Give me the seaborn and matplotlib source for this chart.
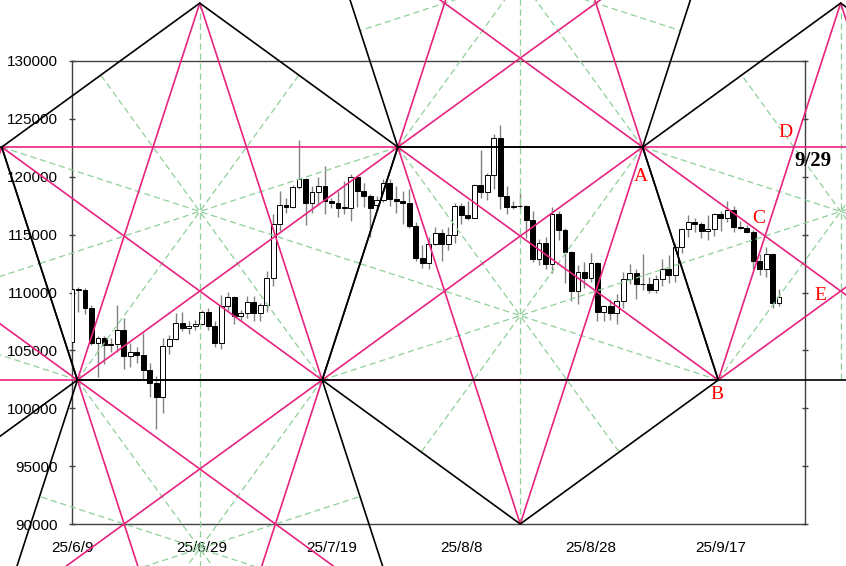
import matplotlib

matplotlib.use("Agg")
import matplotlib.dates as mdates
import matplotlib.pyplot as plt
import numpy as np
import pandas as pd
import seaborn as sns
from matplotlib.ticker import FuncFormatter, MultipleLocator

START = "2025-06-09"

# daily candles, 25/6/9 .. 25/9/26
opens = [105700, 110280, 110250, 108650, 105650, 106050, 105450, 105580, 106780, 104520,
         104900, 104600, 103300, 102150, 100950, 105350, 106000, 107350, 106900, 107100,
         107300, 108350, 107100, 105650, 108850, 109600, 108000, 108200, 109150, 108200,
         108900, 111250, 115950, 117550, 117400, 119100, 119800, 117750, 118700, 119200,
         117900, 117700, 117400, 117300, 120000, 118800, 118300, 117600, 117950, 119450,
         118100, 117900, 117750, 115750, 113000, 112550, 114200, 115100, 114150, 115000,
         117500, 116700, 116450, 119300, 118700, 120150, 123350, 118350, 117400, 117450,
         117500, 116250, 112900, 114250, 112450, 116800, 115400, 113500, 110100, 111750,
         111250, 112550, 108350, 108800, 108200, 109300, 111200, 111700, 110700, 110750,
         110200, 111150, 112050, 111500, 113950, 115500, 116100, 115950, 115300, 115450,
         116750, 116450, 117100, 115650, 115600, 115250, 112700, 112050, 113300, 109050]
highs = [110400, 110500, 110400, 108900, 106200, 106200, 106100, 108900, 107800, 105600,
         105300, 106500, 103900, 102800, 106100, 106300, 108200, 108300, 107500, 107600,
         108500, 108700, 107500, 109800, 110050, 109700, 108500, 109700, 109700, 109100,
         111900, 116800, 118800, 118200, 119300, 123200, 119900, 119200, 120000, 120900,
         118200, 118800, 119600, 120200, 120100, 119500, 118500, 118300, 119800, 119800,
         119200, 118800, 118900, 116100, 114100, 114800, 115700, 115500, 115700, 117700,
         117700, 117900, 119350, 122300, 120300, 123700, 124450, 119200, 117900, 118600,
         117600, 117000, 114600, 114800, 117400, 117000, 115600, 113600, 112400, 112600,
         113450, 112600, 108950, 109400, 109900, 111800, 112500, 112000, 113300, 111300,
         111500, 112900, 113200, 114300, 115600, 116700, 116400, 116100, 116700, 116900,
         117000, 117900, 117500, 116200, 115800, 115400, 113300, 113900, 113400, 110300]
lows = [105300, 108300, 108100, 105500, 102700, 103800, 104900, 104900, 103400, 103600,
        103900, 102400, 101000, 98250, 99600, 104700, 105900, 106700, 106400, 106800,
        107200, 106800, 105300, 105100, 108400, 107300, 107500, 107800, 107500, 107500,
        108300, 110600, 115300, 116900, 117300, 118900, 115800, 116900, 117600, 116800,
        117300, 116500, 116800, 116200, 117400, 117400, 114800, 117200, 117800, 117500,
        116900, 115900, 115600, 112700, 112100, 112000, 114100, 112700, 113700, 114300,
        115900, 116300, 116400, 118200, 118000, 118900, 117200, 116800, 117200, 117200,
        114700, 112600, 112400, 112000, 111700, 114500, 110800, 109300, 109000, 110400,
        110900, 107500, 107500, 107600, 107300, 108700, 110700, 109400, 110200, 110000,
        110000, 110600, 110800, 110900, 113400, 114800, 115200, 114700, 114500, 114900,
        115300, 116100, 115200, 115500, 115100, 112000, 111500, 111300, 108700, 108800]
closes = [110280, 110250, 108650, 105650, 106050, 105450, 105580, 106780, 104520, 104900,
          104600, 103300, 102150, 100950, 105350, 106000, 107350, 106900, 107100, 107300,
          108350, 107100, 105650, 108850, 109600, 108000, 108200, 109150, 108200, 108900,
          111250, 115950, 117550, 117400, 119100, 119800, 117750, 118700, 119200, 117900,
          117700, 117300, 117300, 120000, 118800, 118300, 117300, 117950, 119450, 118100,
          117900, 117750, 115750, 113000, 112550, 114200, 115100, 114150, 115000, 117500,
          116700, 116450, 119300, 118700, 120150, 123350, 118350, 117400, 117450, 117500,
          116250, 112900, 114250, 112450, 116800, 115400, 113500, 110100, 111750, 111250,
          112550, 108350, 108800, 108200, 109300, 111200, 111700, 110700, 110750, 110200,
          111150, 112050, 111500, 113950, 115500, 116100, 115950, 115300, 115450, 116750,
          116450, 117100, 115650, 115600, 115250, 112700, 112050, 113300, 109050, 109650]

# regular pentagons drawn over the chart: centre (days after START, price), apex side
pent_days = [-29.7, 19.7, 69.1, 118.5, 19.7, 69.1]
pent_prices = [108000, 117000, 108000, 117000, 87876, 137124]
pent_apex = ["down", "up", "down", "up", "down", "up"]
PENT_R_DAYS = 32.1
PENT_R_PRICE = 18000

# lower horizontal drawn in black between the two pentagon corners
support_days = [38.6, 99.6]
support_prices = [102438, 102438]

tick_days = [0, 20, 40, 60, 80, 100]
y_ticks = [90000, 95000, 100000, 105000, 110000, 115000, 120000, 125000, 130000]

label_texts = ["A", "B", "C", "D", "E"]
label_days = [87.7, 99.5, 105.8, 110.0, 115.4]
label_prices = [120000, 101150, 116400, 123780, 109780]
date_note = "9/29"
note_day = 114.3
note_price = 121390

PINK = "#e8237f"
GREEN = "#8fcf9a"


def pentagon(cx, cy, apex):
    start = 90 if apex == "up" else 270
    ang = np.deg2rad(start + 72 * np.arange(5))
    return cx + PENT_R_DAYS * np.cos(ang), cy + PENT_R_PRICE * np.sin(ang)


def build_segments(base):
    rows = []
    seg = 0
    for cx, cy, apex in zip(pent_days, pent_prices, pent_apex):
        vx, vy = pentagon(cx, cy, apex)
        for i in range(5):
            pairs = {
                "side": ((vx[i], vy[i]), (vx[(i + 1) % 5], vy[(i + 1) % 5])),
                "diag": ((vx[i], vy[i]), (vx[(i + 2) % 5], vy[(i + 2) % 5])),
                "axis": (
                    (vx[i], vy[i]),
                    ((vx[(i + 2) % 5] + vx[(i + 3) % 5]) / 2, (vy[(i + 2) % 5] + vy[(i + 3) % 5]) / 2),
                ),
            }
            for kind, (p, q) in pairs.items():
                rows.append((kind, seg, base + p[0], p[1]))
                rows.append((kind, seg, base + q[0], q[1]))
                seg += 1
    rows.append(("side", seg, base + support_days[0], support_prices[0]))
    rows.append(("side", seg, base + support_days[1], support_prices[1]))
    return pd.DataFrame(rows, columns=["kind", "seg", "x", "y"])


def date_label(value, pos):
    d = mdates.num2date(value)
    return f"{d.year % 100}/{d.month}/{d.day}"


sns.set_theme(style="white")
plt.rcParams["font.family"] = ["Liberation Sans", "DejaVu Sans"]

fig = plt.figure(figsize=(8.46, 5.66), dpi=100)
ax = fig.add_axes([72 / 846, 1 - 524 / 566, (805 - 72) / 846, (524 - 61) / 566])

base = mdates.date2num(pd.Timestamp(START))
xs = mdates.date2num(pd.date_range(START, periods=len(opens)))
o = np.array(opens)
c = np.array(closes)

ax.vlines(xs, lows, highs, color="#808080", lw=1, zorder=2)
ax.bar(xs, np.abs(c - o), bottom=np.minimum(o, c), width=0.75,
       color=np.where(c >= o, "white", "black"), edgecolor="black", linewidth=0.7, zorder=3)

segs = build_segments(base)
styles = {
    "axis": dict(color=GREEN, lw=0.9, dashes=(5, 3), zorder=4),
    "diag": dict(color=PINK, lw=1.2, zorder=5),
    "side": dict(color="black", lw=1.2, zorder=6),
}
for kind, kw in styles.items():
    sns.lineplot(data=segs[segs["kind"] == kind], x="x", y="y", units="seg",
                 estimator=None, sort=False, clip_on=False, ax=ax, **kw)

for text, d, p in zip(label_texts, label_days, label_prices):
    ax.text(base + d, p, text, color="red", fontsize=14, family="Liberation Serif",
            ha="center", va="center", zorder=7)
ax.text(base + note_day, note_price, date_note, color="black", fontsize=15,
        family="Liberation Serif", fontweight="bold", ha="center", va="center", zorder=7)

ax.set_xlim(base, base + 113)
ax.set_ylim(90000, 130000)
ax.set_xticks([base + d for d in tick_days])
ax.xaxis.set_major_formatter(FuncFormatter(date_label))
ax.set_yticks(y_ticks)
ax.yaxis.set_major_formatter(FuncFormatter(lambda v, pos: f"{int(v)}"))
ax.set_xlabel("")
ax.set_ylabel("")
ax.tick_params(axis="both", direction="inout", length=5, width=1, color="#404040",
               labelsize=11, labelcolor="black")
ax.tick_params(axis="x", pad=10)
ax.tick_params(axis="y", pad=8, right=True, left=True)
for spine in ax.spines.values():
    spine.set_color("#404040")
    spine.set_linewidth(1)

fig.savefig("out.png", dpi=100)
